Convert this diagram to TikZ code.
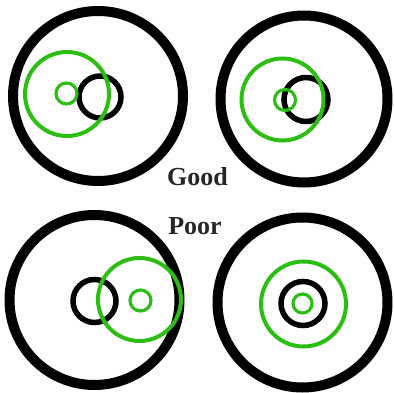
\documentclass[tikz,border=0pt]{standalone}
\usepackage{fontspec}
\setmainfont{Liberation Serif}
\definecolor{ringgreen}{RGB}{45,190,20}
\begin{document}
\begin{tikzpicture}[x=1pt,y=-1pt,
  bigring/.style={draw=black,line width=10pt},
  coring/.style={draw=black,line width=5.5pt},
  greenring/.style={draw=ringgreen,line width=4pt},
  greendot/.style={draw=ringgreen,line width=3.2pt},
  lbl/.style={font=\bfseries\fontsize{26}{30}\selectfont,text=black!85,inner sep=0pt,anchor=base}]
\useasboundingbox (0,0) rectangle (394,393);
% top left
\draw[bigring] (98,96) circle[radius=85];
\draw[coring] (100,97) circle[radius=21];
\draw[greenring] (67,94) circle[radius=42];
\draw[greendot] (66.5,93.5) circle[radius=10.5];
% top right
\draw[bigring] (304,99) circle[radius=83.5];
\draw[coring] (306,99.5) circle[radius=22];
\draw[greenring] (282.5,99.5) circle[radius=41];
\draw[greendot] (285,100) circle[radius=10.5];
% bottom left
\draw[bigring] (94.5,300) circle[radius=85];
\draw[coring] (94.5,301) circle[radius=21.5];
\draw[greenring] (139.5,299.5) circle[radius=41.5];
\draw[greendot] (140.5,300.5) circle[radius=10.5];
% bottom right
\draw[bigring] (302.5,302.5) circle[radius=85];
\draw[coring] (303,303.5) circle[radius=22];
\draw[greenring] (303.5,304) circle[radius=42.5];
\draw[greendot] (302.5,303.5) circle[radius=9.5];
% labels
\node[lbl] (good) at (197.5,186) {Good};
\node[lbl] (poor) at (195,235) {Poor};
\end{tikzpicture}
\end{document}
